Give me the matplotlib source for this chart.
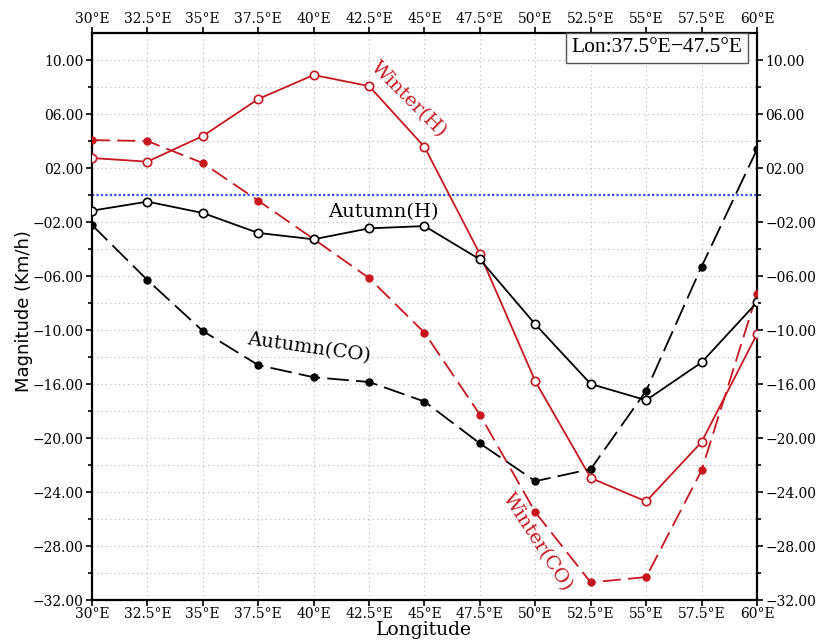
import matplotlib
matplotlib.use("Agg")
import matplotlib.pyplot as plt
from matplotlib.ticker import FixedLocator

lon = [30, 32.5, 35, 37.5, 40, 42.5, 45, 47.5, 50, 52.5, 55, 57.5, 60]
winter_h = [2.74, 2.47, 4.37, 7.11, 8.89, 8.07, 3.56, -4.37, -13.8, -20.96, -22.7, -18.3, -10.3]
winter_co = [4.07, 4.0, 2.37, -0.42, -3.26, -6.15, -10.2, -16.27, -23.5, -28.7, -28.3, -20.4, -7.33]
autumn_h = [-1.16, -0.49, -1.33, -2.81, -3.28, -2.47, -2.3, -4.77, -9.58, -14.0, -15.2, -12.4, -7.95]
autumn_co = [-2.22, -6.30, -10.07, -12.6, -13.5, -13.85, -15.3, -18.4, -21.2, -20.3, -14.5, -5.3, 3.38]

xticks = [30, 32.5, 35, 37.5, 40, 42.5, 45, 47.5, 50, 52.5, 55, 57.5, 60]
xticklabels = ["30°E", "32.5°E", "35°E", "37.5°E", "40°E", "42.5°E", "45°E",
               "47.5°E", "50°E", "52.5°E", "55°E", "57.5°E", "60°E"]
yticks = [10, 6, 2, -2, -6, -10, -14, -18, -22, -26, -30]
yticklabels = ["10.00", "06.00", "02.00", "-02.00", "-06.00", "-10.00", "-16.00",
               "-20.00", "-24.00", "-28.00", "-32.00"]
yticklabels = [s.replace("-", "\u2212") for s in yticklabels]

RED = "#C8161D"
SERIF = "DejaVu Serif"
TICKFS = 10

fig = plt.figure(figsize=(8.16, 6.4), dpi=100)
ax = fig.add_axes([0.1127, 0.0625, 0.815, 0.8859])

ax.set_xlim(30, 60)
ax.set_ylim(-30, 12)

# grid
for x in xticks[1:-1]:
    ax.axvline(x, color="#b8b8b8", lw=0.8, ls=(0, (1, 3)), zorder=0)
for y in range(-28, 12, 2):
    ax.axhline(y, color="#b8b8b8", lw=0.8, ls=(0, (1, 3)), zorder=0)

ax.axhline(0, color="#3050FF", lw=1.6, ls=(0, (1, 1)), zorder=1)

ax.plot(lon, winter_h, color=RED, lw=1.3, marker="o", ms=6, mfc="white", mec=RED, mew=1.2, zorder=3)
ax.plot(lon, winter_co, color=RED, lw=1.3, ls=(0, (10, 4)), marker="o", ms=5, mfc=RED, mec=RED, zorder=3)
ax.plot(lon, autumn_h, color="black", lw=1.3, marker="o", ms=6, mfc="white", mec="black", mew=1.2, zorder=4)
ax.plot(lon, autumn_co, color="black", lw=1.3, ls=(0, (12, 4)), marker="o", ms=5, mfc="black", mec="black", zorder=3)

# curve labels
LFS = 14
ax.text(44.3, 7.1, "Winter(H)", color=RED, fontsize=LFS, family=SERIF, rotation=-45,
        ha="center", va="center")
ax.text(43.15, -1.3, "Autumn(H)", color="black", fontsize=LFS, family=SERIF,
        ha="center", va="center")
ax.text(39.8, -11.3, "Autumn(CO)", color="black", fontsize=LFS, family=SERIF, rotation=-8,
        ha="center", va="center")
ax.text(50.1, -25.7, "Winter(CO)", color=RED, fontsize=LFS, family=SERIF, rotation=-57,
        ha="center", va="center")

ax.text(59.35, 11.6, "Lon:37.5°E\u221247.5°E", ha="right", va="top", fontsize=15.5,
        family="Liberation Serif",
        bbox=dict(boxstyle="square,pad=0.25", fc="white", ec="#555555", lw=1.0))

ax.xaxis.set_major_locator(FixedLocator(xticks))
ax.set_xticklabels(xticklabels, family=SERIF, fontsize=TICKFS)
ax.yaxis.set_major_locator(FixedLocator(yticks))
ax.yaxis.set_minor_locator(FixedLocator([8, 4, 0, -4, -8, -12, -16, -20, -24, -28]))
ax.set_yticklabels(yticklabels, family=SERIF, fontsize=TICKFS)

ax.tick_params(axis="both", which="both", direction="out", top=True, right=True,
               labeltop=True, labelright=True, width=1.2)
ax.tick_params(which="major", length=4)
ax.tick_params(which="minor", length=3)
for t in ax.xaxis.get_major_ticks() + ax.yaxis.get_major_ticks():
    t.label2.set_family(SERIF)
    t.label2.set_fontsize(TICKFS)
ax.tick_params(axis="x", pad=1)
ax.tick_params(axis="y", pad=2)

for s in ax.spines.values():
    s.set_linewidth(1.6)

ax.set_xlabel("Longitude", family=SERIF, fontsize=13.5, labelpad=0)
ax.set_ylabel("Magnitude (Km/h)", family="DejaVu Sans", fontsize=13, labelpad=2)
ax.yaxis.set_label_coords(-0.088, 0.51)

fig.savefig("out.png", dpi=100)
